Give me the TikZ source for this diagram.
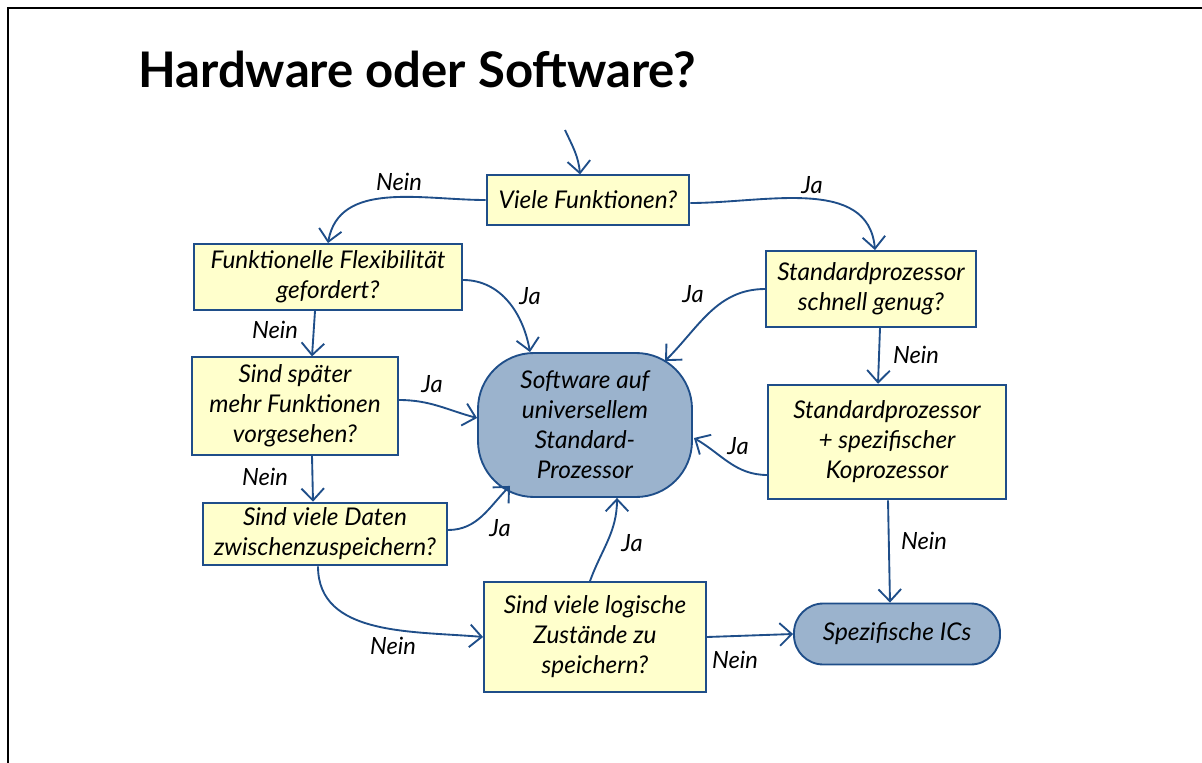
\documentclass[tikz,border=0pt]{standalone}
\usepackage{fontspec}
\setmainfont{Lato}
\usetikzlibrary{arrows.meta,calc}
\definecolor{flowblue}{RGB}{31,78,137}
\definecolor{boxyellow}{RGB}{255,255,204}
\definecolor{blobblue}{RGB}{155,179,205}

\begin{document}
\begin{tikzpicture}[x=0.75pt,y=0.75pt,
    question/.style={draw=flowblue,fill=boxyellow,line width=1.4pt,align=center,inner sep=2pt,
      font=\itshape\fontsize{18.3}{22.5}\selectfont},
    result/.style={draw=flowblue,fill=blobblue,line width=1.4pt,align=center,inner sep=2pt,
      font=\itshape\fontsize{18.3}{22.5}\selectfont},
    answer/.style={inner sep=0pt,font=\itshape\fontsize{17.8}{22.5}\selectfont},
    flow/.style={draw=flowblue,line width=1.4pt,-{Straight Barb[length=9pt,width=17pt]}}]
  \useasboundingbox (0,0) rectangle (1202,-763);
  \draw[line width=1.5pt] (8,-763) -- (8,-8) -- (1202,-8);
  \node[anchor=base west,inner sep=0pt,font=\bfseries\fontsize{36.8}{44}\selectfont] (title) at (138,-88) {Hardware oder Software?};

  % questions
  \node[question,minimum width=152pt,minimum height=37pt] (viele) at (588,-200) {Viele Funktionen?};
  \node[question,minimum width=201pt,minimum height=49.5pt] (funk) at (328,-277) {Funktionelle Flexibilität\\gefordert?};
  \node[question,minimum width=154.5pt,minimum height=73pt] (spaet) at (295,-406) {Sind später\\mehr Funktionen\\vorgesehen?};
  \node[question,minimum width=183pt,minimum height=47pt] (daten) at (325,-534) {Sind viele Daten\\zwischenzuspeichern?};
  \node[question,minimum width=166.5pt,minimum height=82.5pt] (logisch) at (595,-637) {Sind viele logische\\Zustände zu\\speichern?};
  \node[question,minimum width=157pt,minimum height=57pt] (schnell) at (871,-289) {Standardprozessor\\schnell genug?};
  \node[question,minimum width=178pt,minimum height=86pt] (kopro) at (887,-442) {Standardprozessor\\+ spezifischer\\Koprozessor};

  % results
  \node[result,rounded corners=42pt,minimum width=160.5pt,minimum height=108pt] (blob) at (585,-425) {Software auf\\universellem\\Standard-\\Prozessor};
  \node[result,rounded corners=22pt,minimum width=154.5pt,minimum height=45.75pt] (ics) at (897,-634) {Spezifische ICs};

  % connectors
  \coordinate (entry) at (565,-130);
  \draw[flow] (entry) to[out=-65,in=95] ($(viele.north)+(-8,0)$);
  \draw[flow] (viele.west) to[out=180,in=80] (funk.north);
  \draw[flow] ($(viele.east)+(0,-3)$) to[out=0,in=95] ($(schnell.north)+(4,0)$);
  \draw[flow] ($(funk.east)+(0,-3)$) to[out=0,in=100] ($(blob.north)+(-55,0)$);
  \draw[flow] ($(funk.south)+(-13,0)$) -- ($(spaet.north)+(17,0)$);
  \draw[flow] ($(spaet.east)+(0,6)$) to[out=0,in=165] ($(blob.west)+(0,7)$);
  \draw[flow] ($(spaet.south)+(17,0)$) -- ($(daten.north)+(-12,0)$);
  \draw[flow] ($(daten.east)+(0,4)$) to[out=0,in=225] ($(blob.south)+(-75,12)$);
  \draw[flow] ($(daten.south)+(-7,0)$) to[out=-90,in=175] (logisch.west);
  \draw[flow] ($(logisch.north)+(-5,0)$) to[out=70,in=-90] ($(blob.south)+(32,0)$);
  \draw[flow] (logisch.east) -- (ics.west);
  \draw[flow] (schnell.west) to[out=180,in=45] ($(blob.north)+(80,-9)$);
  \draw[flow] ($(schnell.south)+(9,0)$) -- ($(kopro.north)+(-9,0)$);
  \draw[flow] ($(kopro.west)+(0,-33)$) to[out=180,in=-30] ($(blob.east)+(1,-13)$);
  \draw[flow] ($(kopro.south)+(1,0)$) -- ($(ics.north)+(-7,0)$);

  % labels
  \node[answer] (n1) at (399,-182) {Nein};
  \node[answer] (j1) at (812,-185) {Ja};
  \node[answer] (j2) at (530,-296) {Ja};
  \node[answer] (n2) at (275,-330) {Nein};
  \node[answer] (j3) at (432,-384) {Ja};
  \node[answer] (n3) at (265,-477) {Nein};
  \node[answer] (j4) at (500,-528) {Ja};
  \node[answer] (n4) at (393,-646) {Nein};
  \node[answer] (j5) at (632,-543) {Ja};
  \node[answer] (n5) at (735,-660) {Nein};
  \node[answer] (j6) at (693,-294) {Ja};
  \node[answer] (n6) at (916,-355) {Nein};
  \node[answer] (j7) at (738,-446) {Ja};
  \node[answer] (n7) at (924,-541) {Nein};
\end{tikzpicture}
\end{document}
